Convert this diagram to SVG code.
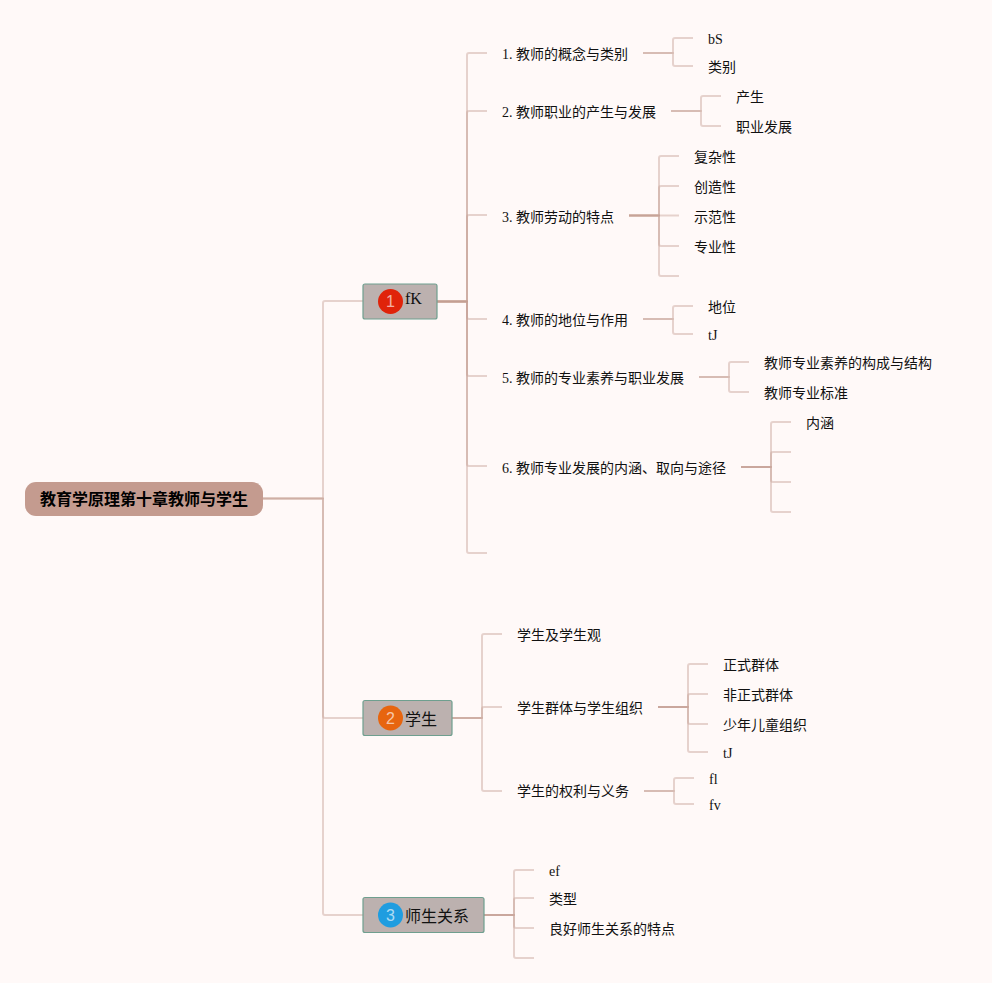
<svg xmlns="http://www.w3.org/2000/svg" width="992" height="983" viewBox="0 0 992 983">
<style>
text{font-family:"Liberation Serif","Noto Sans CJK SC",serif;fill:#111}
.t{font-size:14px}
.b{font-size:16px}
.r{font-family:"Noto Sans CJK SC","Liberation Sans",sans-serif;font-size:16px;font-weight:700;fill:#000}
.n{font-family:"Liberation Sans",sans-serif;font-size:16px;fill:#fff;fill-opacity:.65;text-anchor:middle}
.box{fill:#bcb1af;stroke:#6f9f8f;stroke-width:1.2}
#connectors path{fill:none;stroke:#c49d92;stroke-width:2;stroke-opacity:.42;stroke-linejoin:round}
</style>
<rect width="992" height="983" fill="#fff9f8"/>
<g id="connectors">
<path d="M263 498.500H323V303Q323 301 325 301H363"/>
<path d="M263 498.500H323V716Q323 718 325 718H363"/>
<path d="M263 498.500H323V913Q323 915 325 915H363"/>
<path d="M437 301.500H467V55Q467 53 469 53H487"/>
<path d="M437 301.500H467V113Q467 111 469 111H487"/>
<path d="M437 301.500H467V217Q467 215 469 215H487"/>
<path d="M437 301.500H467V317Q467 319 469 319H487"/>
<path d="M437 301.500H467V374Q467 376 469 376H487"/>
<path d="M437 301.500H467V464Q467 466 469 466H487"/>
<path d="M437 301.500H467V551Q467 553 469 553H487"/>
<path d="M643 53H673V40Q673 38 675 38H693"/>
<path d="M643 53H673V64Q673 66 675 66H693"/>
<path d="M671 111H701V98Q701 96 703 96H721"/>
<path d="M671 111H701V124Q701 126 703 126H721"/>
<path d="M629 215.500H659V158Q659 156 661 156H679"/>
<path d="M629 215.500H659V188Q659 186 661 186H679"/>
<path d="M629 215.500H679"/>
<path d="M629 215.500H659V244Q659 246 661 246H679"/>
<path d="M629 215.500H659V274Q659 276 661 276H679"/>
<path d="M643 319H673V308Q673 306 675 306H693"/>
<path d="M643 319H673V332Q673 334 675 334H693"/>
<path d="M699 377H729V364Q729 362 731 362H749"/>
<path d="M699 377H729V390Q729 392 731 392H749"/>
<path d="M741 467H771V424Q771 422 773 422H791"/>
<path d="M741 467H771V454Q771 452 773 452H791"/>
<path d="M741 467H771V480Q771 482 773 482H791"/>
<path d="M741 467H771V510Q771 512 773 512H791"/>
<path d="M452 718H482V636Q482 634 484 634H502"/>
<path d="M452 718H482V709Q482 707 484 707H502"/>
<path d="M452 718H482V789Q482 791 484 791H502"/>
<path d="M658 707H688V666Q688 664 690 664H708"/>
<path d="M658 707H688V696Q688 694 690 694H708"/>
<path d="M658 707H688V722Q688 724 690 724H708"/>
<path d="M658 707H688V750Q688 752 690 752H708"/>
<path d="M644 791H674V780Q674 778 676 778H694"/>
<path d="M644 791H674V802Q674 804 676 804H694"/>
<path d="M484 915H514V872Q514 870 516 870H534"/>
<path d="M484 915H514V900Q514 898 516 898H534"/>
<path d="M484 915H514V926Q514 928 516 928H534"/>
<path d="M484 915H514V956Q514 958 516 958H534"/>
</g>
<g id="root"><rect x="25" y="482" width="238" height="34" rx="11" fill="#c49b8f"/><text class="r" x="40" y="505">教育学原理第十章教师与学生</text></g>
<g id="n1"><rect class="box" x="363" y="284" width="74" height="35" rx="2"/><circle cx="390.500" cy="301.500" r="12.500" fill="#e0230a"/><text class="n" x="390.500" y="307">1</text><text class="b" x="405" y="304">fK</text></g>
<g id="n2"><rect class="box" x="363" y="700.500" width="89" height="35" rx="2"/><circle cx="390.500" cy="718" r="12.500" fill="#e7650f"/><text class="n" x="390.500" y="724">2</text><text class="b" x="405" y="725">学生</text></g>
<g id="n3"><rect class="box" x="363" y="897.500" width="121" height="35" rx="2"/><circle cx="390.500" cy="915" r="12.500" fill="#1f9de0"/><text class="n" x="390.500" y="921">3</text><text class="b" x="405" y="922">师生关系</text></g>
<g id="a1"><text class="t" x="502" y="59">1. 教师的概念与类别</text></g>
<g id="a1a"><text class="t" x="708" y="44">bS</text></g>
<g id="a1b"><text class="t" x="708" y="72">类别</text></g>
<g id="a2"><text class="t" x="502" y="117">2. 教师职业的产生与发展</text></g>
<g id="a2a"><text class="t" x="736" y="102">产生</text></g>
<g id="a2b"><text class="t" x="736" y="132">职业发展</text></g>
<g id="a3"><text class="t" x="502" y="222">3. 教师劳动的特点</text></g>
<g id="a3a"><text class="t" x="694" y="162">复杂性</text></g>
<g id="a3b"><text class="t" x="694" y="192">创造性</text></g>
<g id="a3c"><text class="t" x="694" y="222">示范性</text></g>
<g id="a3d"><text class="t" x="694" y="252">专业性</text></g>
<g id="a4"><text class="t" x="502" y="325">4. 教师的地位与作用</text></g>
<g id="a4a"><text class="t" x="708" y="312">地位</text></g>
<g id="a4b"><text class="t" x="708" y="340">tJ</text></g>
<g id="a5"><text class="t" x="502" y="383">5. 教师的专业素养与职业发展</text></g>
<g id="a5a"><text class="t" x="764" y="368">教师专业素养的构成与结构</text></g>
<g id="a5b"><text class="t" x="764" y="398">教师专业标准</text></g>
<g id="a6"><text class="t" x="502" y="473">6. 教师专业发展的内涵、取向与途径</text></g>
<g id="a6a"><text class="t" x="806" y="428">内涵</text></g>
<g id="b1"><text class="t" x="517" y="640">学生及学生观</text></g>
<g id="b2"><text class="t" x="517" y="713">学生群体与学生组织</text></g>
<g id="b2a"><text class="t" x="723" y="670">正式群体</text></g>
<g id="b2b"><text class="t" x="723" y="700">非正式群体</text></g>
<g id="b2c"><text class="t" x="723" y="730">少年儿童组织</text></g>
<g id="b2d"><text class="t" x="723" y="758">tJ</text></g>
<g id="b3"><text class="t" x="517" y="796">学生的权利与义务</text></g>
<g id="b3a"><text class="t" x="709" y="784">fl</text></g>
<g id="b3b"><text class="t" x="709" y="810">fv</text></g>
<g id="c1"><text class="t" x="549" y="876">ef</text></g>
<g id="c2"><text class="t" x="549" y="904">类型</text></g>
<g id="c3"><text class="t" x="549" y="934">良好师生关系的特点</text></g>
</svg>
